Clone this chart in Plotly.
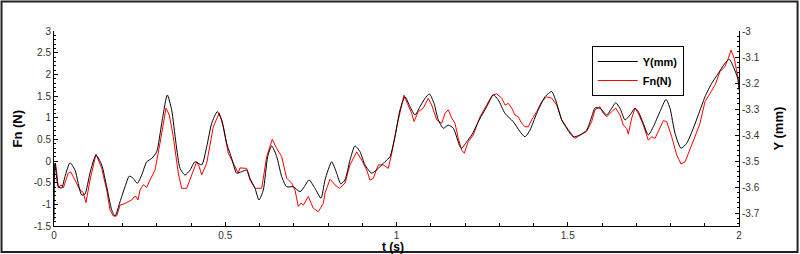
import plotly.graph_objects as go

# ---- data: Y(mm) (right axis) ----
t_y = [0.0, 0.003, 0.0126, 0.0225, 0.032, 0.0467, 0.0613, 0.0809, 0.0905, 0.1051,
       0.1226, 0.1393, 0.1539, 0.1685, 0.1781, 0.1927, 0.2073, 0.2199, 0.2315, 0.2432,
       0.2561, 0.2707, 0.2853, 0.2999, 0.3145, 0.3308, 0.3436, 0.3562, 0.3679, 0.3825,
       0.3971, 0.4117, 0.4312, 0.4458, 0.4604, 0.4768, 0.4896, 0.5042, 0.5188, 0.5334,
       0.5480, 0.5626, 0.5723, 0.5869, 0.5985, 0.6111, 0.6239, 0.6356, 0.6502, 0.6648,
       0.6794, 0.6987, 0.7182, 0.7308, 0.7445, 0.7620, 0.7796, 0.7912, 0.8108, 0.8254,
       0.8371, 0.8496, 0.8642, 0.8788, 0.8934, 0.9080, 0.9276, 0.9469, 0.9664, 0.9810,
       0.9956, 1.0102, 1.0248, 1.0394, 1.0540, 1.0686, 1.0832, 1.0958, 1.1095, 1.1220,
       1.1366, 1.1512, 1.1658, 1.1854, 1.1904, 1.2049, 1.2196, 1.2388, 1.2634, 1.2826,
       1.2972, 1.3168, 1.3410, 1.3606, 1.3752, 1.3898, 1.4093, 1.4336, 1.4531, 1.4677,
       1.4823, 1.4969, 1.5162, 1.5358, 1.5553, 1.5699, 1.5796, 1.5942, 1.6137, 1.6283,
       1.6400, 1.6526, 1.6672, 1.6818, 1.6964, 1.7060, 1.7206, 1.7352, 1.7498, 1.7693,
       1.7869, 1.7985, 1.8131, 1.8307, 1.8473, 1.8666, 1.8812, 1.9007, 1.9203, 1.9396,
       1.9591, 1.9717, 1.9834, 1.9962, 2.0]
y_mm = [-3.727, -3.508, -3.599, -3.604, -3.560, -3.507, -3.535, -3.631, -3.627, -3.546,
        -3.477, -3.515, -3.599, -3.688, -3.712, -3.657, -3.599, -3.558, -3.567, -3.586,
        -3.554, -3.503, -3.490, -3.464, -3.355, -3.246, -3.304, -3.432, -3.528, -3.554,
        -3.535, -3.503, -3.515, -3.445, -3.355, -3.310, -3.342, -3.432, -3.490, -3.547,
        -3.541, -3.535, -3.567, -3.605, -3.650, -3.612, -3.483, -3.442, -3.483, -3.560,
        -3.599, -3.599, -3.618, -3.599, -3.573, -3.605, -3.643, -3.573, -3.503, -3.547,
        -3.588, -3.573, -3.496, -3.442, -3.464, -3.515, -3.547, -3.528, -3.503, -3.483,
        -3.407, -3.304, -3.253, -3.291, -3.323, -3.291, -3.259, -3.242, -3.278, -3.342,
        -3.374, -3.362, -3.374, -3.445, -3.451, -3.426, -3.400, -3.349, -3.291, -3.246,
        -3.265, -3.317, -3.349, -3.387, -3.407, -3.381, -3.317, -3.253, -3.233, -3.278,
        -3.342, -3.374, -3.407, -3.400, -3.381, -3.330, -3.296, -3.297, -3.323, -3.297,
        -3.276, -3.297, -3.342, -3.323, -3.297, -3.310, -3.355, -3.400, -3.368, -3.310,
        -3.263, -3.297, -3.393, -3.451, -3.432, -3.374, -3.323, -3.253, -3.201, -3.163,
        -3.124, -3.109, -3.137, -3.182, -3.227]

# ---- data: Fn(N) (left axis) ----
t_fn = [0.0, 0.0044, 0.0088, 0.0126, 0.0204, 0.0272, 0.0418, 0.0488, 0.0613, 0.0759,
        0.0847, 0.0934, 0.1051, 0.1226, 0.1393, 0.1539, 0.1635, 0.1731, 0.1831, 0.1927,
        0.2073, 0.2161, 0.2269, 0.2336, 0.2394, 0.2453, 0.2511, 0.2607, 0.2707, 0.2803,
        0.2949, 0.3095, 0.3182, 0.3270, 0.3366, 0.3483, 0.3629, 0.3728, 0.3874, 0.3971,
        0.4166, 0.4234, 0.4312, 0.4458, 0.4651, 0.4826, 0.4943, 0.5089, 0.5235, 0.5314,
        0.5381, 0.5431, 0.5527, 0.5626, 0.5723, 0.5869, 0.6064, 0.6210, 0.6374, 0.6502,
        0.6648, 0.6794, 0.6940, 0.7036, 0.7133, 0.7212, 0.7279, 0.7425, 0.7571, 0.7717,
        0.7863, 0.7912, 0.8058, 0.8204, 0.8330, 0.8496, 0.8642, 0.8838, 0.8984, 0.9130,
        0.9226, 0.9323, 0.9469, 0.9615, 0.9761, 0.9860, 1.0006, 1.0152, 1.0219, 1.0316,
        1.0444, 1.0511, 1.0636, 1.0782, 1.0928, 1.1028, 1.1174, 1.1320, 1.1416, 1.1512,
        1.1612, 1.1708, 1.1805, 1.1904, 1.1980, 1.2096, 1.2242, 1.2438, 1.2634, 1.2797,
        1.2926, 1.3072, 1.3168, 1.3264, 1.3364, 1.3460, 1.3556, 1.3655, 1.3752, 1.3848,
        1.3947, 1.4093, 1.4239, 1.4385, 1.4531, 1.4677, 1.4823, 1.5016, 1.5212, 1.5358,
        1.5553, 1.5699, 1.5796, 1.5942, 1.6038, 1.6137, 1.6283, 1.6400, 1.6526, 1.6622,
        1.6721, 1.6768, 1.6867, 1.6964, 1.7060, 1.7206, 1.7352, 1.7451, 1.7547, 1.7693,
        1.7790, 1.7889, 1.8035, 1.8181, 1.8307, 1.8423, 1.8569, 1.8715, 1.8861, 1.9007,
        1.9153, 1.9299, 1.9445, 1.9591, 1.9688, 1.9766, 1.9863, 1.9933, 2.0]
fn_n = [-0.16, -0.05, -0.32, -0.62, -0.55, -0.62, -0.28, -0.25, -0.44, -0.67,
        -0.72, -0.96, -0.44, 0.16, -0.17, -0.67, -1.13, -1.27, -1.27, -1.02,
        -0.98, -0.95, -0.90, -0.83, -0.82, -0.90, -0.67, -0.55, -0.61, -0.44,
        -0.21, 0.41, 0.83, 1.22, 1.06, 0.56, -0.28, -0.63, -0.63, -0.44,
        -0.02, -0.12, -0.32, -0.05, 0.79, 1.11, 0.79, 0.18, -0.05, -0.21,
        -0.28, -0.16, -0.17, -0.17, -0.44, -0.63, -0.63, 0.10, 0.50, 0.29,
        0.10, -0.40, -0.51, -0.67, -1.05, -0.97, -1.02, -0.82, -1.09, -1.17,
        -0.98, -0.74, -0.42, -0.55, -0.63, -0.51, -0.09, 0.21, 0.02, -0.21,
        -0.44, -0.40, -0.09, -0.09, -0.17, 0.18, 0.79, 1.25, 1.52, 1.33,
        1.10, 0.91, 1.14, 1.22, 1.45, 1.29, 0.95, 0.87, 1.10, 1.18,
        0.99, 0.87, 0.52, 0.25, 0.18, 0.45, 0.60, 1.02, 1.29, 1.52,
        1.55, 1.45, 1.29, 1.33, 1.22, 1.06, 1.02, 0.87, 0.79, 0.79,
        0.95, 1.14, 1.37, 1.48, 1.45, 1.29, 0.95, 0.72, 0.52, 0.60,
        0.68, 0.91, 1.18, 1.25, 1.10, 1.02, 1.14, 1.22, 1.06, 0.83,
        0.75, 0.62, 0.99, 1.22, 1.10, 0.83, 0.48, 0.56, 0.52, 0.79,
        0.93, 0.91, 0.56, 0.14, -0.07, -0.02, 0.25, 0.56, 0.87, 1.37,
        1.56, 1.75, 2.06, 2.18, 2.37, 2.56, 2.37, 2.06, 1.79]

# ---- tick labels ----
x_ticks = [0, 0.5, 1, 1.5, 2]
x_labels = ["0", "0.5", "1", "1.5", "2"]
fn_ticks = [-1.5, -1, -0.5, 0, 0.5, 1, 1.5, 2, 2.5, 3]
fn_labels = ["-1.5", "-1", "-0.5", "0", "0.5", "1", "1.5", "2", "2.5", "3"]
y_ticks = [-3.7, -3.6, -3.5, -3.4, -3.3, -3.2, -3.1, -3.0]
y_labels = ["-3.7", "-3.6", "-3.5", "-3.4", "-3.3", "-3.2", "-3.1", "-3"]

FONT = "Liberation Sans, Arial, sans-serif"
TICKFONT = dict(family=FONT, size=10, color="#333")

fig = go.Figure()
fig.add_trace(go.Scatter(x=t_y, y=y_mm, name="Y(mm)", mode="lines", yaxis="y2",
                         line=dict(color="black", width=1, shape="spline", smoothing=0.6)))
fig.add_trace(go.Scatter(x=t_fn, y=fn_n, name="Fn(N)", mode="lines", yaxis="y",
                         line=dict(color="#ff0000", width=1)))

fig.update_layout(
    width=800, height=254,
    margin=dict(l=54, r=61, t=31, b=28),
    paper_bgcolor="white", plot_bgcolor="white",
    showlegend=True,
    legend=dict(x=0.785, y=0.923, xanchor="left", yanchor="top",
                bgcolor="white", bordercolor="black", borderwidth=1,
                font=dict(family=FONT, size=11, color="black", weight="bold"),
                tracegroupgap=0, itemwidth=40),
    xaxis=dict(range=[0, 2], tickvals=x_ticks, ticktext=x_labels,
               ticks="inside", ticklen=4, tickcolor="black",
               showline=True, linecolor="black", linewidth=1,
               showgrid=False, zeroline=False, tickfont=TICKFONT,
               ticklabelstandoff=0,
               minor=dict(dtick=0.1, ticks="inside", ticklen=3, tickcolor="black")),
    yaxis=dict(range=[-1.5, 3], tickvals=fn_ticks, ticktext=fn_labels,
               ticks="inside", ticklen=4, tickcolor="black",
               showline=True, linecolor="black", linewidth=1,
               showgrid=False, zeroline=False, tickfont=TICKFONT,
               minor=dict(dtick=0.1, tick0=0, ticks="inside", ticklen=2, tickcolor="black")),
    yaxis2=dict(range=[-3.75, -3.0], overlaying="y", side="right",
                tickvals=y_ticks, ticktext=y_labels,
                ticks="inside", ticklen=4, tickcolor="black",
                showline=True, linecolor="black", linewidth=1,
                showgrid=False, zeroline=False, tickfont=TICKFONT,
                minor=dict(dtick=0.02, tick0=-3.0, ticks="inside", ticklen=2, tickcolor="black")),
)

title_font = dict(family=FONT, size=13, color="black", weight="bold")
fig.add_annotation(text="Fn (N)", xref="paper", yref="paper", x=-0.0526, y=0.5,
                   xanchor="center", yanchor="middle",
                   textangle=-90, showarrow=False, font=title_font)
fig.add_annotation(text="Y (mm)", xref="paper", yref="paper", x=1.057, y=0.5,
                   xanchor="center", yanchor="middle",
                   textangle=-90, showarrow=False, font=title_font)
fig.add_annotation(text="t (s)", xref="paper", yref="paper", x=0.495, y=-0.106,
                   xanchor="center", yanchor="middle",
                   showarrow=False, font=dict(family=FONT, size=12, color="black", weight="bold"))

# outer frame
fig.add_shape(type="rect", xref="paper", yref="paper",
              x0=-0.0766, x1=1.0855, y0=-0.1333, y1=1.151,
              line=dict(color="#222", width=2), fillcolor="rgba(0,0,0,0)", layer="below")

fig.write_html("out.html")
